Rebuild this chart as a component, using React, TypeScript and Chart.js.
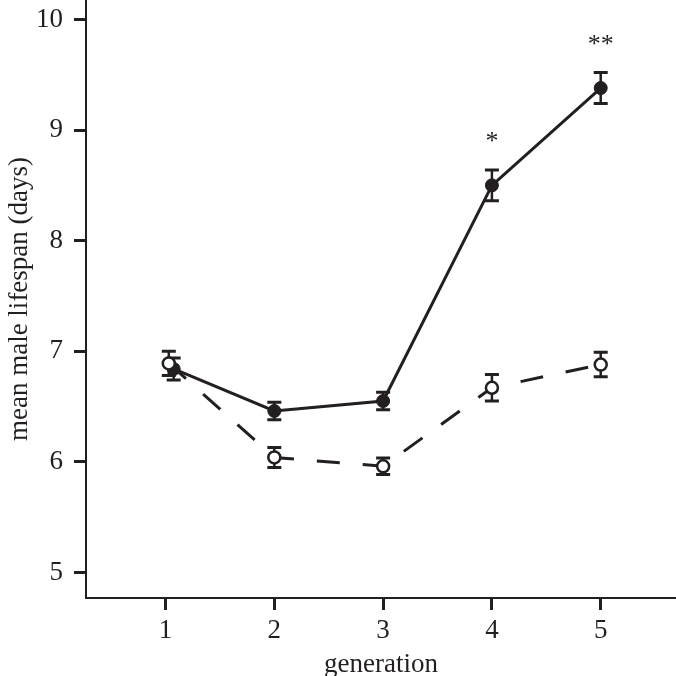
import { useEffect, useRef } from "react";
import { Chart, registerables } from "chart.js";

Chart.register(...registerables);

// generation categories (x ticks)
const generations = [1, 2, 3, 4, 5];
const yTicks = [5, 6, 7, 8, 9, 10];

// filled circles, solid line
const selectedX = [1.075, 2, 3, 4, 5];
const selectedMean = [6.84, 6.46, 6.55, 8.5, 9.38];
const selectedErr = [0.1, 0.08, 0.08, 0.14, 0.14];
const selectedStars = ["", "", "", "*", "**"];

// open circles, dashed line
const controlX = [1.03, 2, 3, 4, 5];
const controlMean = [6.89, 6.04, 5.96, 6.67, 6.88];
const controlErr = [0.11, 0.09, 0.075, 0.12, 0.11];

const ink = "#231f20";
const serif = "'Liberation Serif', 'Times New Roman', serif";

const errorBars = {
  id: "error-bars",
  beforeDatasetsDraw: (c: Chart) => {
    const ctx = c.ctx;
    const x = c.scales.x;
    const y = c.scales.y;
    c.data.datasets.forEach((ds: any) => {
      ds.data.forEach((p: any, i: number) => {
        const e = ds.errors[i];
        const px = x.getPixelForValue(p.x);
        const top = y.getPixelForValue(p.y + e);
        const bot = y.getPixelForValue(p.y - e);
        ctx.save();
        ctx.strokeStyle = ink;
        ctx.lineWidth = 2.5;
        ctx.beginPath();
        ctx.moveTo(px, top);
        ctx.lineTo(px, bot);
        ctx.stroke();
        ctx.lineWidth = 3;
        ctx.beginPath();
        ctx.moveTo(px - 7, top);
        ctx.lineTo(px + 7, top);
        ctx.moveTo(px - 7, bot);
        ctx.lineTo(px + 7, bot);
        ctx.stroke();
        ctx.restore();
      });
    });
  },
  afterDatasetsDraw: (c: Chart) => {
    const ctx = c.ctx;
    const x = c.scales.x;
    const y = c.scales.y;
    ctx.save();
    ctx.fillStyle = ink;
    ctx.font = `26px ${serif}`;
    ctx.textAlign = "center";
    ctx.textBaseline = "alphabetic";
    selectedStars.forEach((s, i) => {
      if (!s) return;
      const px = x.getPixelForValue(selectedX[i]);
      const top = y.getPixelForValue(selectedMean[i] + selectedErr[i]);
      ctx.fillText(s, px, top - 21);
    });
    ctx.restore();
  },
};

export default function App() {
  const ref = useRef<HTMLCanvasElement | null>(null);

  useEffect(() => {
    if (!ref.current) return;
    document.body.style.margin = "0";

    const chart = new Chart(ref.current, {
      type: "line",
      data: {
        datasets: [
          {
            data: controlX.map((v, i) => ({ x: v, y: controlMean[i] })),
            errors: controlErr,
            borderColor: ink,
            borderWidth: 3,
            borderDash: [23, 23],
            pointRadius: 6,
            pointBorderWidth: 2.5,
            pointBackgroundColor: "#ffffff",
            pointBorderColor: ink,
            tension: 0,
          } as any,
          {
            data: selectedX.map((v, i) => ({ x: v, y: selectedMean[i] })),
            errors: selectedErr,
            borderColor: ink,
            borderWidth: 3,
            pointRadius: 6.5,
            pointBorderWidth: 1,
            pointBackgroundColor: ink,
            pointBorderColor: ink,
            tension: 0,
          } as any,
        ],
      },
      options: {
        animation: false,
        responsive: true,
        maintainAspectRatio: false,
        layout: { padding: 0, autoPadding: false },
        plugins: { legend: { display: false }, tooltip: { enabled: false } },
        scales: {
          x: {
            type: "linear",
            min: 0.269,
            max: 5.692,
            afterFit: (s: any) => {
              s.height = 78;
              s.paddingLeft = 0;
              s.paddingRight = 0;
            },
            afterBuildTicks: (s: any) => {
              s.ticks = generations.map((v) => ({ value: v }));
            },
            grid: {
              display: true,
              drawOnChartArea: false,
              drawTicks: true,
              tickLength: 12,
              tickWidth: 3,
              tickColor: ink,
            },
            border: { display: true, color: ink, width: 2 },
            ticks: {
              color: ink,
              padding: 5,
              maxRotation: 0,
              font: { family: serif, size: 27 },
              callback: (v: any) => String(v),
            },
            title: {
              display: true,
              text: "generation",
              color: ink,
              padding: { top: 0, bottom: -5 },
              font: { family: serif, size: 27 },
            },
          },
          y: {
            type: "linear",
            min: 4.769,
            max: 10.176,
            afterFit: (s: any) => {
              s.width = 86;
              s.paddingTop = 0;
              s.paddingBottom = 0;
            },
            afterBuildTicks: (s: any) => {
              s.ticks = yTicks.map((v) => ({ value: v }));
            },
            grid: {
              display: true,
              drawOnChartArea: false,
              drawTicks: true,
              tickLength: 12,
              tickWidth: 3,
              tickColor: ink,
            },
            border: { display: true, color: ink, width: 2 },
            ticks: {
              color: ink,
              padding: 11,
              font: { family: serif, size: 27 },
              callback: (v: any) => String(v),
            },
            title: {
              display: true,
              text: "mean male lifespan (days)",
              color: ink,
              padding: { top: 4, bottom: 0 },
              font: { family: serif, size: 27 },
            },
          },
        },
      },
      plugins: [errorBars],
    });

    return () => chart.destroy();
  }, []);

  return (
    <div style={{ position: "fixed", left: 0, top: 0, width: 676, height: 676 }}>
      <canvas ref={ref} />
    </div>
  );
}
